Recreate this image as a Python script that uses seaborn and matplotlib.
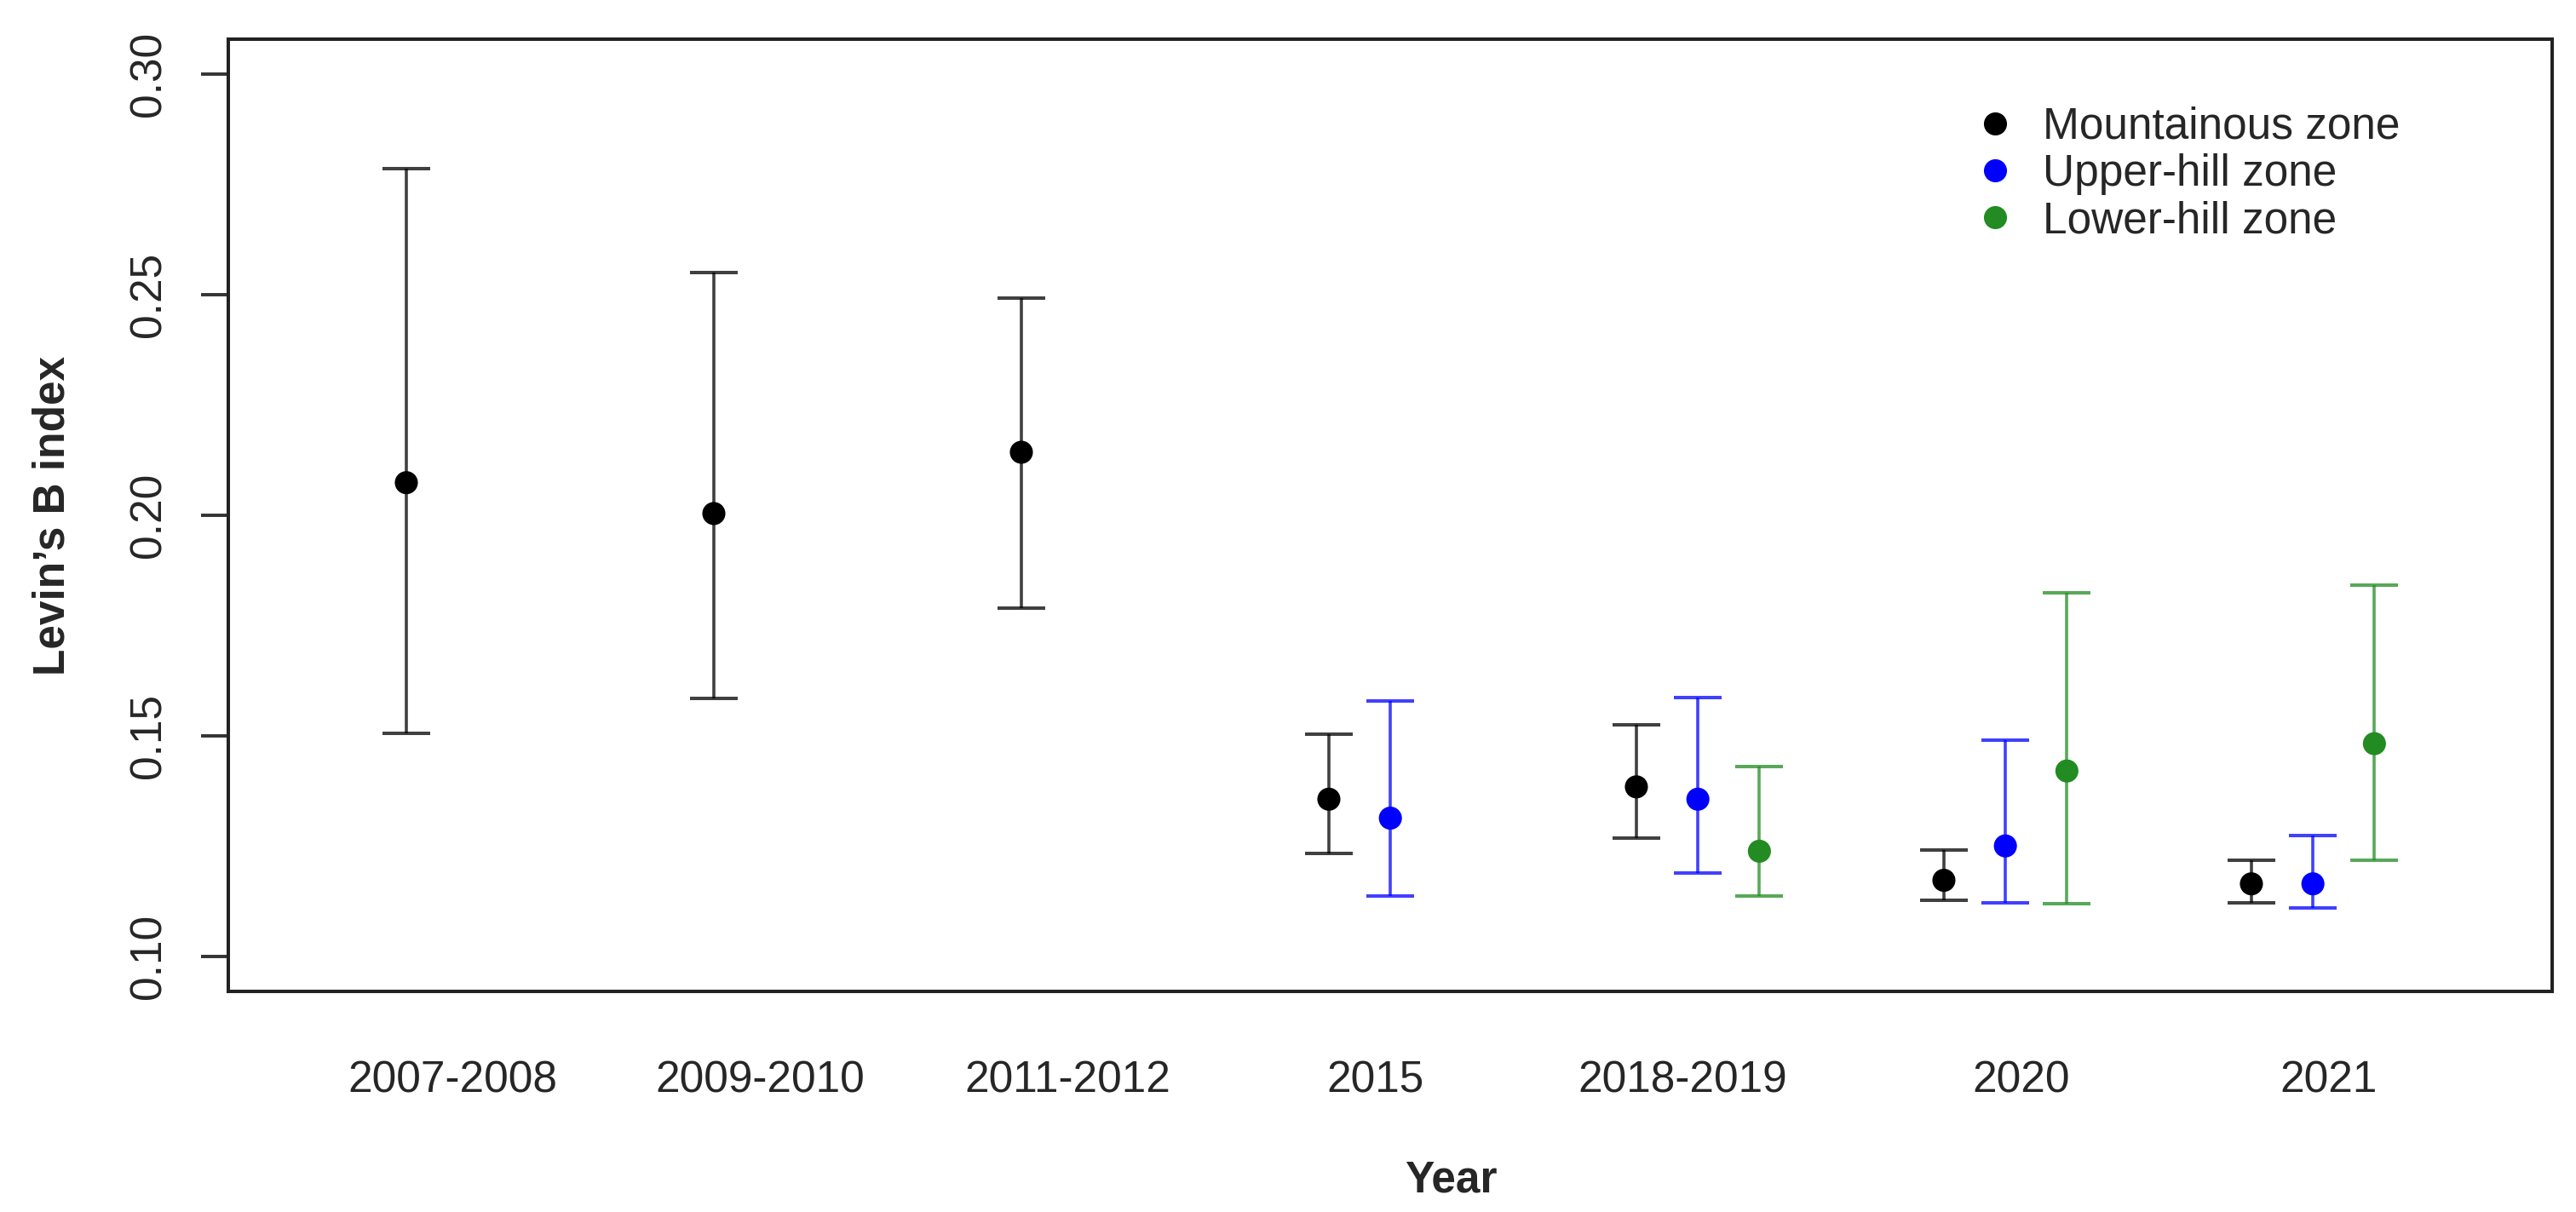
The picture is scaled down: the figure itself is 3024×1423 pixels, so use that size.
import numpy as np
import pandas as pd
import matplotlib
matplotlib.use("Agg")
import matplotlib.pyplot as plt
import seaborn as sns

# ---------------- data ----------------
categories = ["2007-2008", "2009-2010", "2011-2012", "2015", "2018-2019", "2020", "2021"]

mount_cats = ["2007-2008", "2009-2010", "2011-2012", "2015", "2018-2019", "2020", "2021"]
mount_mean = [0.2074, 0.2004, 0.2143, 0.1356, 0.1384, 0.1172, 0.1164]
mount_low = [0.1506, 0.1584, 0.1789, 0.1233, 0.1268, 0.1126, 0.1120]
mount_high = [0.2787, 0.2550, 0.2493, 0.1503, 0.1524, 0.1240, 0.1218]

upper_cats = ["2015", "2018-2019", "2020", "2021"]
upper_mean = [0.1313, 0.1356, 0.1250, 0.1164]
upper_low = [0.1137, 0.1189, 0.1120, 0.1110]
upper_high = [0.1579, 0.1587, 0.1490, 0.1273]

lower_cats = ["2018-2019", "2020", "2021"]
lower_mean = [0.1238, 0.1420, 0.1482]
lower_low = [0.1137, 0.1119, 0.1217]
lower_high = [0.1430, 0.1824, 0.1841]

zones = ["Mountainous zone", "Upper-hill zone", "Lower-hill zone"]
zone_colors = ["#000000", "#0000FF", "#228B22"]
zone_offsets = [0.0, 0.2, 0.4]
label_offsets = [0.15, 0.15, 0.15, 0.15, 0.15, 0.25, 0.25]

yticks = [0.10, 0.15, 0.20, 0.25, 0.30]

# ---------------- build table ----------------
frames = []
for zone, cats, m, lo, hi, off in [
    (zones[0], mount_cats, mount_mean, mount_low, mount_high, zone_offsets[0]),
    (zones[1], upper_cats, upper_mean, upper_low, upper_high, zone_offsets[1]),
    (zones[2], lower_cats, lower_mean, lower_low, lower_high, zone_offsets[2]),
]:
    idx = [categories.index(c) + 1 for c in cats]
    frames.append(pd.DataFrame({
        "Year": cats,
        "x": np.array(idx, dtype=float) + off,
        "B": m,
        "low": lo,
        "high": hi,
        "Zone": zone,
    }))
df = pd.concat(frames, ignore_index=True)

# ---------------- style ----------------
sns.set_theme(style="white")
plt.rcParams["font.family"] = ["Liberation Sans", "DejaVu Sans"]
FS = 37

fig = plt.figure(figsize=(30.24, 14.23), dpi=100)
ax = fig.add_axes([268 / 3024, 1 - 1164 / 1423, (2996 - 268) / 3024, (1164 - 46) / 1423])

palette = dict(zip(zones, zone_colors))

# error bars
for zone, col in palette.items():
    sub = df[df["Zone"] == zone]
    ax.errorbar(sub["x"], sub["B"],
                yerr=[sub["B"] - sub["low"], sub["high"] - sub["B"]],
                fmt="none", ecolor=col, elinewidth=2.6, capsize=20, capthick=2.9,
                alpha=0.75, zorder=2)

# points
sns.scatterplot(data=df, x="x", y="B", hue="Zone", hue_order=zones, palette=palette,
                s=19.5 ** 2, edgecolor="none", linewidth=0, ax=ax, zorder=3, legend=True)

# axes
ax.set_xlim(0.421, 7.978)
ax.set_ylim(0.092, 0.308)
ax.set_yticks(yticks)
ax.set_yticklabels([f"{t:.2f}" for t in yticks], rotation=90, va="center", fontsize=FS)
ax.tick_params(axis="y", length=23, width=2.8, pad=26, color="#333333", left=True)
xt = [i + 1 + label_offsets[i] for i in range(len(categories))]
ax.set_xticks(xt)
ax.set_xticklabels(categories, fontsize=FS)
ax.tick_params(axis="x", length=0, pad=58)
for s in ax.spines.values():
    s.set_linewidth(2.9)
    s.set_color("#222222")
ax.set_xlabel("")
ax.set_ylabel("")
ax.grid(False)

fig.text(62 / 3024, 1 - 605 / 1423, "Levin\u2019s B index", rotation=90, ha="center",
         va="center", fontsize=FS, fontweight="bold")
fig.text(1703 / 3024, 1 - 1400 / 1423, "Year", ha="center", va="baseline",
         fontsize=FS, fontweight="bold")

# legend
handles, labels = ax.get_legend_handles_labels()
for h in handles:
    try:
        h.set_sizes([17 ** 2])
    except Exception:
        pass
leg = ax.legend(handles, labels, loc="upper left",
                bbox_to_anchor=((2285 - 268) / (2996 - 268), 1 - (99 - 46) / (1164 - 46)),
                frameon=False, fontsize=FS, handletextpad=0.5, labelspacing=0.12,
                borderpad=0, handlelength=1.2, markerscale=1.0)

fig.savefig("out.png", dpi=100, facecolor="white")
